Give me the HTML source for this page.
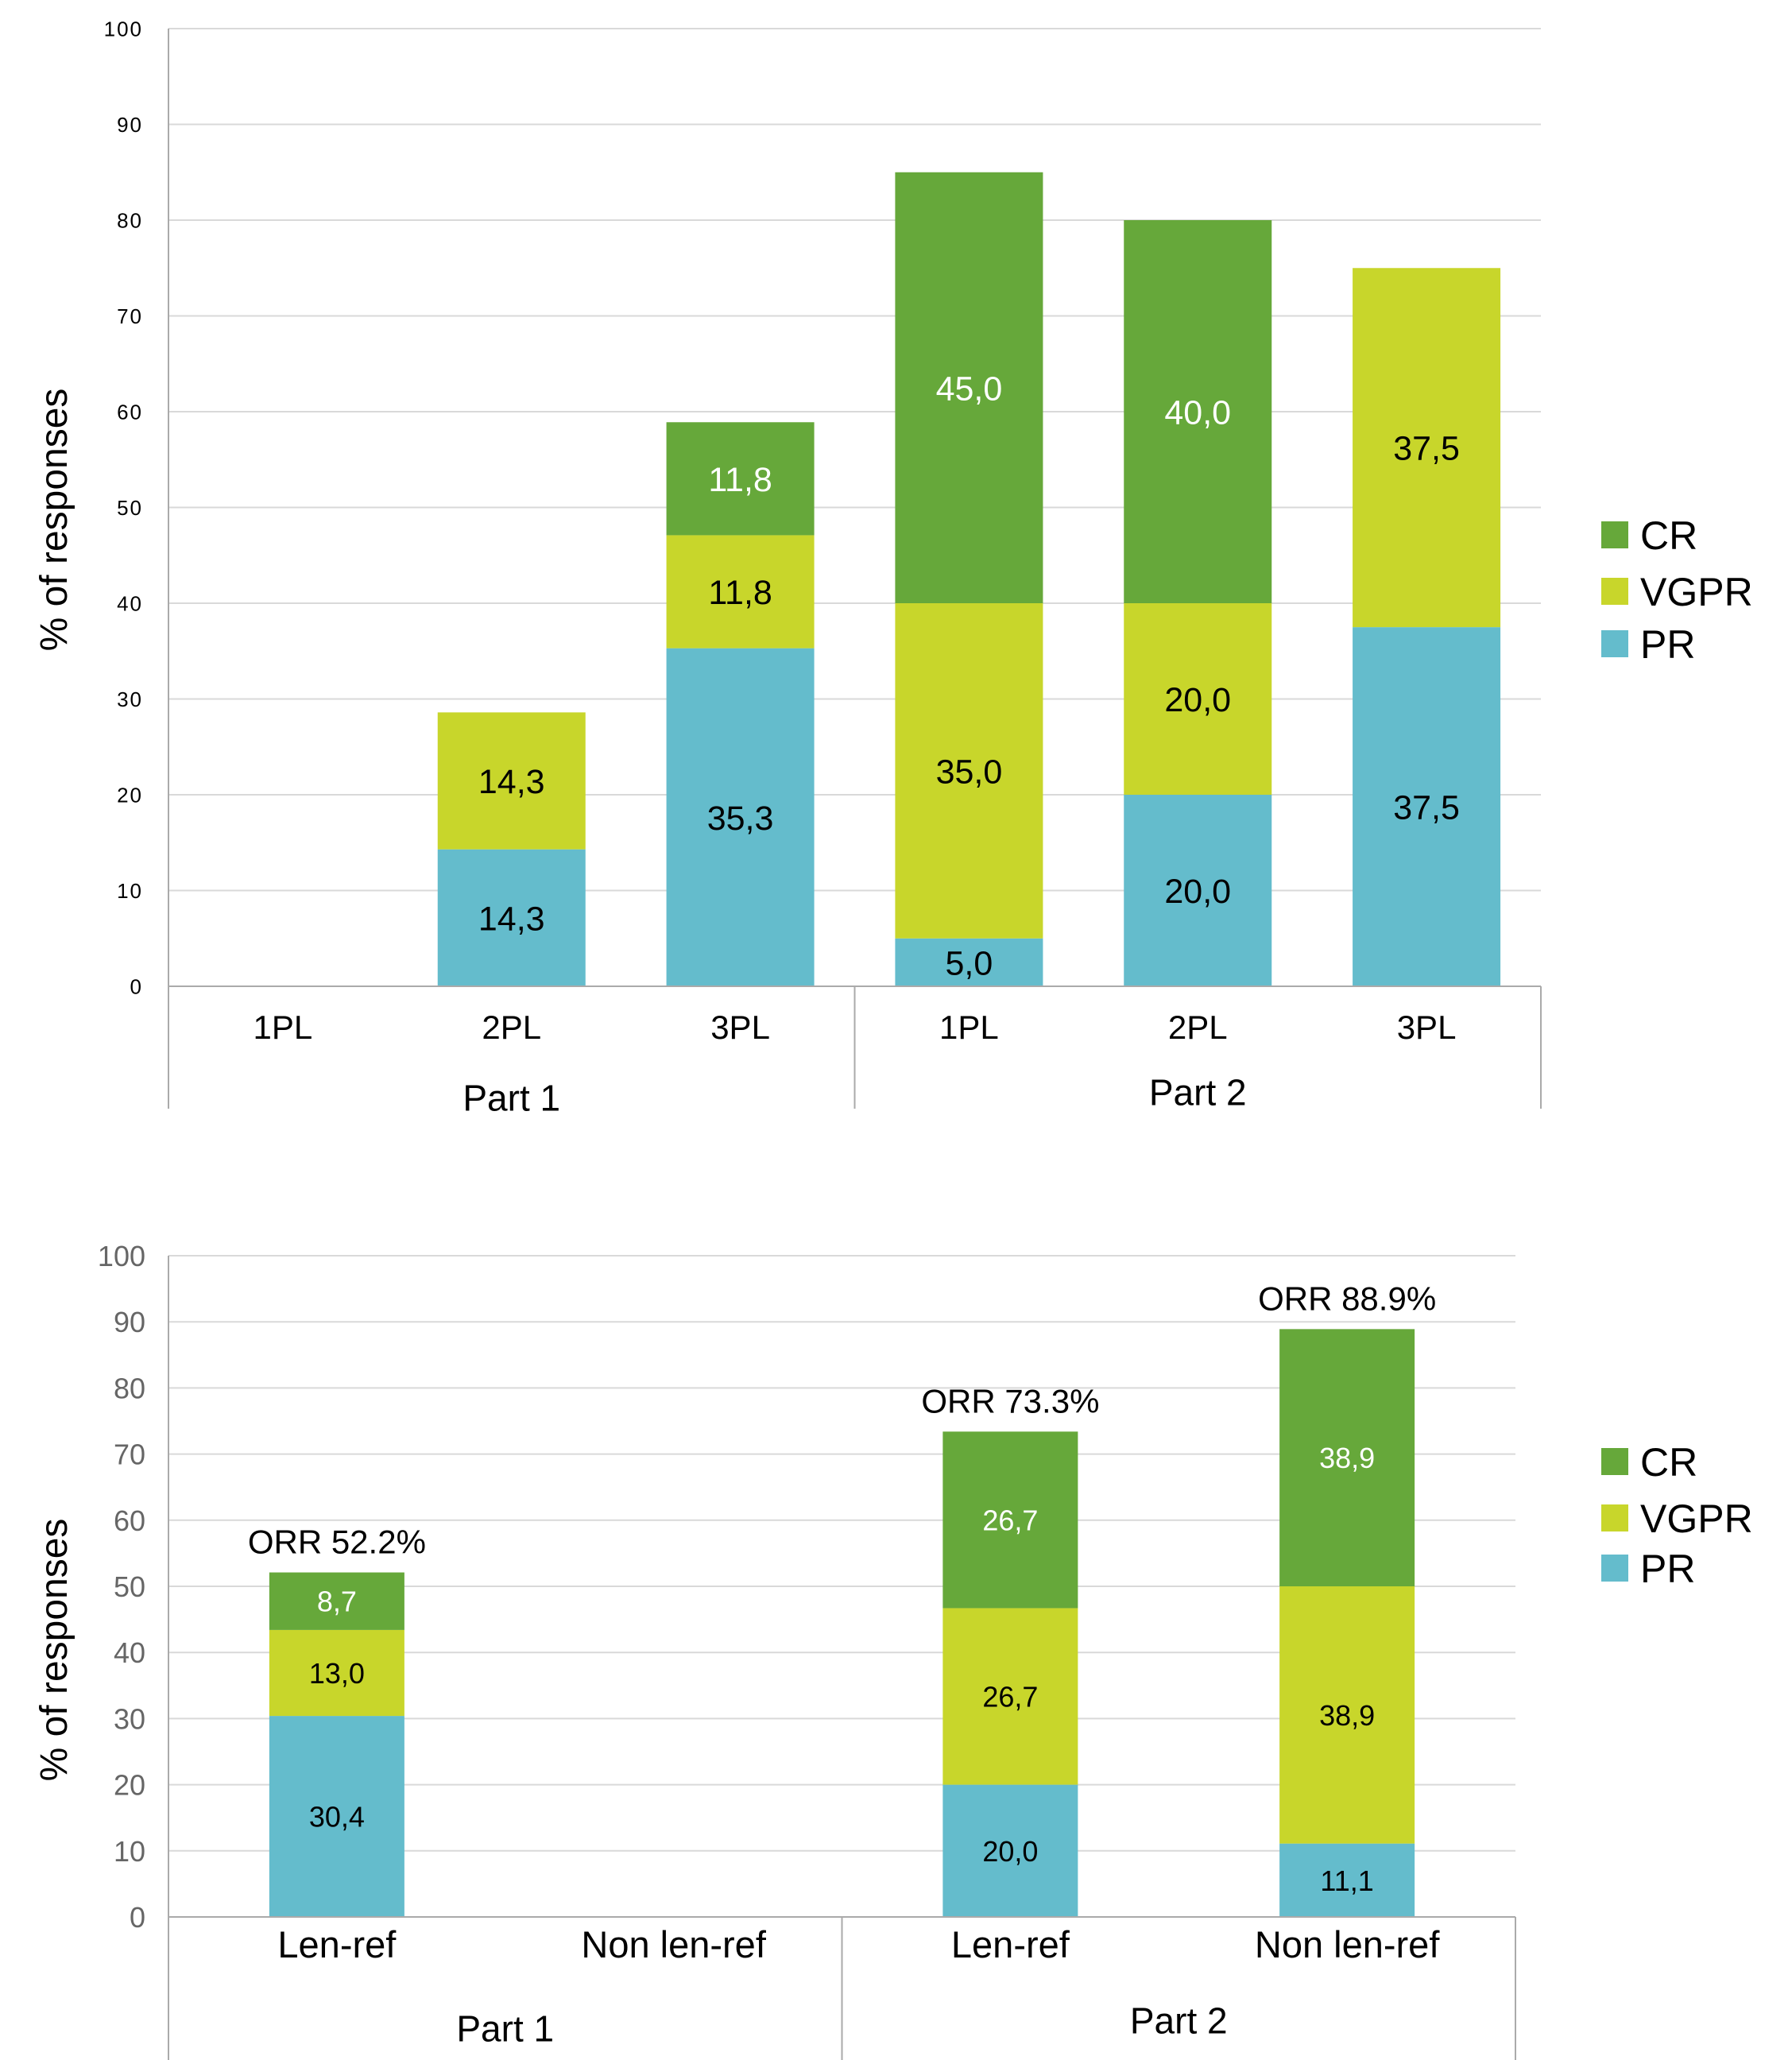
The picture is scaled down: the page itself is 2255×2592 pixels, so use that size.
<!DOCTYPE html>
<html><head><meta charset="utf-8">
<style>
html,body{margin:0;padding:0;background:#fff;}
svg{display:block;font-family:"Liberation Sans",sans-serif;}
</style></head>
<body>
<svg id="chart" width="2255" height="2592" viewBox="0 0 2255 2592" xmlns="http://www.w3.org/2000/svg"></svg>
<script>
// Top chart data
const topCats = ["1PL","2PL","3PL","1PL","2PL","3PL"];
const topParts = ["Part 1","Part 2"];
const topPR = [0,14.3,35.3,5.0,20.0,37.5];
const topVGPR = [0,14.3,11.8,35.0,20.0,37.5];
const topCR = [0,0,11.8,45.0,40.0,0];
const topTicks = [0,10,20,30,40,50,60,70,80,90,100];
// Bottom chart data
const botCats = ["Len-ref","Non len-ref","Len-ref","Non len-ref"];
const botParts = ["Part 1","Part 2"];
const botPR = [30.4,0,20.0,11.1];
const botVGPR = [13.0,0,26.7,38.9];
const botCR = [8.7,0,26.7,38.9];
const botORR = ["ORR 52.2%","","ORR 73.3%","ORR 88.9%"];
const botTicks = [0,10,20,30,40,50,60,70,80,90,100];
const seriesNames = ["CR","VGPR","PR"];

const COL = {CR:"#66a83a", VGPR:"#c8d62b", PR:"#64bccc"};
const NS = "http://www.w3.org/2000/svg";
const svg = document.getElementById("chart");
function mk(tag, attrs, parent, text){
  const e = document.createElementNS(NS, tag);
  for (const k in attrs) e.setAttribute(k, attrs[k]);
  if (text !== undefined) e.textContent = text;
  (parent||svg).appendChild(e);
  return e;
}
function fmt(v){ return v.toFixed(1).replace(".", ","); }

function drawChart(cfg){
  const g = mk("g", {});
  
  
  const y = v => cfg.y0 - (v/100)*(cfg.y0 - cfg.y100);
  const n = cfg.cats.length;
  const step = (cfg.right - cfg.left)/n;
  const cx = i => cfg.left + step*(i+0.5);
  cfg.ticks.forEach(t => {
    if (t > 0) {
      const l = mk("line", {x1:cfg.left, x2:cfg.right, y1:y(t), y2:y(t), stroke:"#d9d9d9", "stroke-width":2}, g);
      
      
    }
    const tl = mk("text", {x:cfg.tickX, y:y(t)+cfg.tickFont*0.36, "text-anchor":"end", "font-size":cfg.tickFont, fill:cfg.tickColor, "letter-spacing":cfg.tickLS}, g, String(t));
    
    
  });
  for (let i=0;i<n;i++){
    const segs = [["PR",cfg.pr[i],"#000"],["VGPR",cfg.vgpr[i],"#000"],["CR",cfg.cr[i],"#fff"]];
    let base = 0;
    segs.forEach(s => {
      const v = s[1];
      if (v <= 0) return;
      const r = mk("rect", {x:cx(i)-cfg.bw/2, y:y(base+v), width:cfg.bw, height:y(base)-y(base+v), fill:COL[s[0]]}, g);
      
      
      const t = mk("text", {x:cx(i), y:(y(base)+y(base+v))/2 + cfg.valFont*0.36, "text-anchor":"middle", "font-size":cfg.valFont, fill:s[2]}, g, fmt(v));
      
      
      base += v;
    });
    if (cfg.orr && cfg.orr[i]) {
      const t = mk("text", {x:cx(i), y:y(base)-cfg.orrGap, "text-anchor":"middle", "font-size":cfg.orrFont, fill:"#000"}, g, cfg.orr[i]);
      
      
    }
    const cl = mk("text", {x:cx(i), y:cfg.catY + cfg.catFont*0.36, "text-anchor":"middle", "font-size":cfg.catFont, fill:"#000"}, g, cfg.cats[i]);
    
    
  }
  const ax = mk("line", {x1:cfg.left, x2:cfg.left, y1:cfg.y100, y2:cfg.axBottom, stroke:"#aaa", "stroke-width":2}, g);
  
  
  const bx = mk("line", {x1:cfg.left, x2:cfg.right, y1:cfg.y0, y2:cfg.y0, stroke:"#aaa", "stroke-width":2}, g);
  
  
  [cfg.left + (cfg.right-cfg.left)/2, cfg.right].forEach(xx => {
    const d = mk("line", {x1:xx, x2:xx, y1:cfg.y0, y2:cfg.axBottom, stroke:"#aaa", "stroke-width":2}, g);
    
    
  });
  const half = (cfg.right-cfg.left)/2;
  cfg.parts.forEach((p,k) => {
    const t = mk("text", {x:cfg.left + half*(k+0.5), y:cfg.partY[k] + cfg.partFont*0.36, "text-anchor":"middle", "font-size":cfg.partFont, fill:"#000"}, g, p);
    
    
  });
  const yt = mk("text", {x:0, y:0, "text-anchor":"middle", "font-size":cfg.titleFont, fill:"#000", transform:`translate(${cfg.titleX},${cfg.titleY}) rotate(-90)`}, g, "% of responses");
  
  
  seriesNames.forEach((s,k) => {
    const ly = cfg.legY[k];
    const r = mk("rect", {x:2015, y:ly-17, width:34, height:34, fill:COL[s]}, g);
    
    
    const t = mk("text", {x:2064, y:ly+18, "font-size":50, fill:"#000"}, g, s);
    
    
  });
}

drawChart({name:"top-chart", cats:topCats, parts:topParts, pr:topPR, vgpr:topVGPR, cr:topCR, ticks:topTicks,
  left:212, right:1939, y0:1241, y100:36, bw:186, axBottom:1395,
  tickX:180, tickFont:26, tickColor:"#000", tickLS:2, valFont:43, catFont:42, catY:1292,
  partY:[1381,1374], partFont:46, titleFont:48, titleX:84, titleY:654, legY:[673,744,810]});

drawChart({name:"bottom-chart", cats:botCats, parts:botParts, pr:botPR, vgpr:botVGPR, cr:botCR, ticks:botTicks, orr:botORR, orrGap:24, orrFont:42,
  left:212, right:1907, y0:2412, y100:1580, bw:170, axBottom:2592,
  tickX:183, tickFont:36, tickColor:"#666", tickLS:0, valFont:36, catFont:47, catY:2446,
  partY:[2552,2542], partFont:46, titleFont:48, titleX:84, titleY:2076, legY:[1839,1910,1973]});
</script>
</body></html>
